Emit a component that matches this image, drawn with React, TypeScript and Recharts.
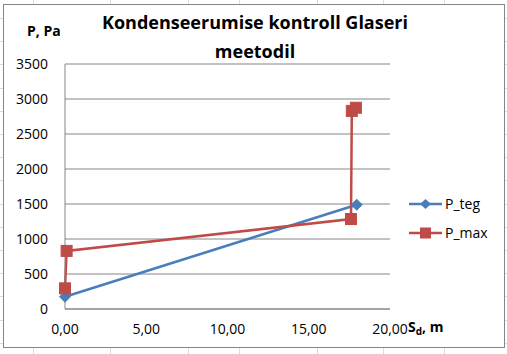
import React from 'react';
import { LineChart, Line, XAxis, YAxis, CartesianGrid } from 'recharts';

const pTegX = [0, 17.95];
const pTegY = [175, 1490];
const pMaxX = [0, 0.1, 17.6, 17.65, 17.9];
const pMaxY = [295, 830, 1285, 2830, 2875];
const yTicks = [0, 500, 1000, 1500, 2000, 2500, 3000, 3500];
const xTicks = [0, 5, 10, 15, 20];
const titleLines = ['Kondenseerumise kontroll Glaseri', 'meetodil'];
const seriesNames = ['P_teg', 'P_max'];

const pTeg = pTegX.map((x, i) => ({ x, y: pTegY[i] }));
const pMax = pMaxX.map((x, i) => ({ x, y: pMaxY[i] }));

const BLUE = '#4A7EBB';
const RED = '#BE4B48';
const FONT = "'Open Sans', 'Noto Sans', sans-serif";

const Diamond = (props: any) => {
  const { cx, cy, index } = props;
  if (cx == null || cy == null) return <g key={`d${index}`} />;
  const r = 5.5;
  return (
    <path
      key={`d${index}`}
      d={`M${cx},${cy - r} L${cx + r},${cy} L${cx},${cy + r} L${cx - r},${cy} Z`}
      fill={BLUE}
      stroke={BLUE}
      strokeWidth={1}
    />
  );
};

const Square = (props: any) => {
  const { cx, cy, index } = props;
  if (cx == null || cy == null) return <g key={`s${index}`} />;
  const s = 11;
  return <rect key={`s${index}`} x={cx - s / 2} y={cy - s / 2} width={s} height={s} fill={RED} stroke={RED} strokeWidth={1} />;
};

const LegendBlock = () => (
  <g transform="translate(405,190)">
    <line x1={4} y1={14} x2={37} y2={14} stroke={BLUE} strokeWidth={2.5} />
    <path d="M20.5,9 L26,14 L20.5,19 L15,14 Z" fill={BLUE} />
    <text x={40} y={19} fontFamily={FONT} fontSize={14} fill="#000">{seriesNames[0]}</text>
    <line x1={4} y1={43} x2={37} y2={43} stroke={RED} strokeWidth={2.5} />
    <rect x={15} y={37.5} width={11} height={11} fill={RED} />
    <text x={40} y={48} fontFamily={FONT} fontSize={14} fill="#000">{seriesNames[1]}</text>
  </g>
);

const colLines = [33, 110, 188, 239, 317, 383, 444];

export default function App() {
  const rows: number[] = [];
  for (let y = 18; y < 354; y += 23.2) rows.push(Math.round(y));
  return (
    <div style={{ position: 'absolute', left: 0, top: 0, width: 507, height: 354, background: '#fff', overflow: 'hidden' }}>
      {colLines.map((x) => (
        <div key={`c${x}`} style={{ position: 'absolute', left: x, top: 0, width: 1, height: 354, background: '#dadcdd' }} />
      ))}
      {rows.map((y) => (
        <div key={`r${y}`} style={{ position: 'absolute', left: 0, top: y, width: 507, height: 1, background: '#dadcdd' }} />
      ))}
      <div style={{ position: 'absolute', left: 3, top: 4, width: 500, height: 342, border: '1px solid #868686', background: '#fff' }} />
      <div style={{ position: 'absolute', left: 0, top: 0 }}>
        <LineChart width={507} height={354} margin={{ top: 64, right: 117, bottom: 15, left: 0 }}>
          <CartesianGrid horizontal vertical={false} stroke="#868686" strokeWidth={1} />
          <XAxis
            type="number"
            dataKey="x"
            domain={[0, 20]}
            ticks={xTicks}
            tickFormatter={(v: number) => v.toFixed(2).replace('.', ',')}
            axisLine={{ stroke: '#868686' }}
            tickLine={false}
            tickSize={0}
            tickMargin={15}
            height={30}
            tick={{ fill: '#000', fontSize: 14, fontFamily: FONT }}
            label={(p: any) => {
              const vb = p.viewBox || { x: 65, y: 309, width: 325 };
              return (
                <text x={vb.x + vb.width + 18} y={vb.y + 23} fontFamily={FONT} fontSize={14} fontWeight="bold" fill="#000">
                  S<tspan fontSize={10} dy={3}>d</tspan><tspan dy={-3}>, m</tspan>
                </text>
              );
            }}
          />
          <YAxis
            type="number"
            dataKey="y"
            domain={[0, 3500]}
            ticks={yTicks}
            axisLine={{ stroke: '#868686' }}
            tickLine={false}
            tickSize={0}
            tickMargin={17}
            width={65}
            tick={{ fill: '#000', fontSize: 14, fontFamily: FONT }}
            label={(p: any) => {
              const vb = p.viewBox || { x: 0, y: 64 };
              return (
                <text x={vb.x + 27} y={vb.y - 28} fontFamily={FONT} fontSize={14} fontWeight="bold" fill="#000">
                  P, Pa
                </text>
              );
            }}
          />
          <Line
            data={pTeg}
            dataKey="y"
            name={seriesNames[0]}
            stroke={BLUE}
            strokeWidth={2.5}
            dot={Diamond}
            activeDot={false}
            isAnimationActive={false}
          />
          <Line
            data={pMax}
            dataKey="y"
            name={seriesNames[1]}
            stroke={RED}
            strokeWidth={2.5}
            dot={Square}
            activeDot={false}
            isAnimationActive={false}
          />
          <LegendBlock />
          <text x={255} y={29} textAnchor="middle" fontFamily={FONT} fontSize={18} fontWeight="bold" fill="#000">
            {titleLines[0]}
          </text>
          <text x={255} y={58} textAnchor="middle" fontFamily={FONT} fontSize={18} fontWeight="bold" fill="#000">
            {titleLines[1]}
          </text>
        </LineChart>
      </div>
    </div>
  );
}
